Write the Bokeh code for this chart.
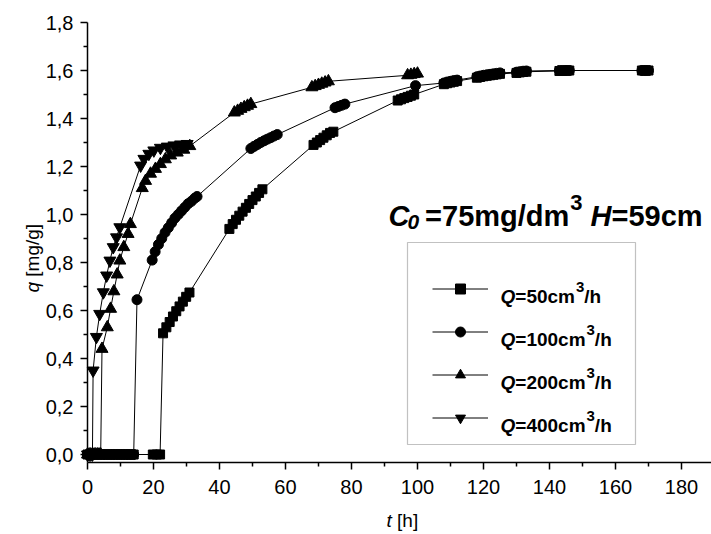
import math
from bokeh.plotting import figure
from bokeh.models import (FixedTicker, CustomJSTickFormatter, Label, Legend,
                          LegendItem, BoxAnnotation, Range1d)
from bokeh.embed import file_html
from bokeh.resources import INLINE

# ---------------- data ----------------
t_q50 = [0, 1, 2, 3, 4, 5, 6, 7, 8, 9, 10, 11, 12, 13, 14,
         19.8, 21.0, 22.0,
         22.9, 23.9, 24.9, 25.9, 26.9, 27.9, 28.9, 29.9, 30.9,
         43, 44, 45, 46, 47, 48, 49, 50, 51, 52, 53,
         68.5, 69.5, 70.5, 71.5, 72.5, 73.5, 74.5,
         94, 95, 96, 97, 98, 99,
         108, 109, 110, 111, 112,
         118, 119, 120, 121, 122, 123, 124, 125,
         130, 131, 132, 133,
         143, 144, 145, 146,
         168, 169, 170]
q_q50 = [0, 0, 0, 0, 0, 0, 0, 0, 0, 0, 0, 0, 0, 0, 0,
         0, 0, 0,
         0.505, 0.53, 0.552, 0.575, 0.597, 0.617, 0.637, 0.657, 0.675,
         0.94, 0.96, 0.978, 0.995, 1.012, 1.028, 1.044, 1.06, 1.075, 1.09, 1.105,
         1.29, 1.30, 1.31, 1.32, 1.33, 1.34, 1.345,
         1.475, 1.48, 1.485, 1.49, 1.495, 1.50,
         1.543, 1.547, 1.55, 1.553, 1.556,
         1.570, 1.573, 1.576, 1.578, 1.580, 1.582, 1.584, 1.586,
         1.590, 1.592, 1.594, 1.595,
         1.598, 1.599, 1.600, 1.600,
         1.600, 1.600, 1.600]

t_q100 = [0, 1, 2, 3, 4, 5, 6, 7, 8, 9, 10, 11, 12, 13, 14,
          15,
          19.6, 20.5, 21.5, 22.5, 23.5, 24.5, 25.5, 26.5, 27.5, 28.5, 29.5, 30.5, 31.5, 32.5, 33.2,
          49.5, 50.5, 51.5, 52.5, 53.5, 54.5, 55.5, 56.5, 57.5,
          75, 76, 77, 78,
          99.4,
          108, 109, 110, 111, 112,
          118, 119, 120, 121, 122, 123, 124, 125,
          130, 131, 132, 133,
          143, 144, 145, 146,
          168, 169, 170]
q_q100 = [0, 0, 0, 0, 0, 0, 0, 0, 0, 0, 0, 0, 0, 0, 0,
          0.645,
          0.81, 0.845, 0.875, 0.90, 0.925, 0.945, 0.965, 0.985, 1.0, 1.015, 1.03, 1.045, 1.055, 1.068, 1.075,
          1.275, 1.284, 1.292, 1.30, 1.307, 1.314, 1.32, 1.327, 1.333,
          1.445, 1.45, 1.455, 1.46,
          1.537,
          1.548, 1.552, 1.555, 1.558, 1.56,
          1.574, 1.577, 1.58, 1.582, 1.584, 1.586, 1.588, 1.59,
          1.593, 1.595, 1.597, 1.598,
          1.60, 1.60, 1.60, 1.60,
          1.60, 1.60, 1.60]

t_q200 = [0, 0.5, 1, 1.5, 2, 2.5, 3, 3.5, 4,
          4.4, 6.0, 7.0, 8.0, 9.0, 9.8, 11.0, 12.3, 13.0,
          16.6, 17.6, 19.1, 20.6, 22.1, 23.6, 25.2, 27.2, 29.2, 31.0,
          44.5, 45.5, 46.5, 47.5, 48.5, 49.5,
          68, 69, 70, 71, 72, 73,
          97, 98, 99, 100]
q_q200 = [0, 0, 0, 0, 0, 0, 0, 0, 0,
          0.44, 0.53, 0.607, 0.68, 0.75, 0.808, 0.864, 0.919, 0.96,
          1.11, 1.14, 1.17, 1.19, 1.21, 1.23, 1.246, 1.258, 1.27, 1.285,
          1.425, 1.432, 1.44, 1.447, 1.453, 1.46,
          1.53, 1.535, 1.54, 1.545, 1.55, 1.555,
          1.58, 1.582, 1.585, 1.587]

t_q400 = [0, 0.5, 1.0, 1.5,
          1.7, 2.7, 3.7, 4.8, 5.8, 6.8, 7.8, 8.8, 9.8,
          16.1, 17.1, 18.6, 20.1, 22.1, 24.2, 26.2, 28.2, 30.2]
q_q400 = [0, 0, 0, 0,
          0.35, 0.49, 0.586, 0.676, 0.746, 0.808, 0.864, 0.905, 0.947,
          1.204, 1.232, 1.253, 1.267, 1.278, 1.283, 1.288, 1.292, 1.294]

series_flow = ["50", "100", "200", "400"]
x_major = [0, 20, 40, 60, 80, 100, 120, 140, 160, 180]
x_minor = [10, 30, 50, 70, 90, 110, 130, 150, 170]
y_major = [0.0, 0.2, 0.4, 0.6, 0.8, 1.0, 1.2, 1.4, 1.6, 1.8]
y_minor = [0.1, 0.3, 0.5, 0.7, 0.9, 1.1, 1.3, 1.5, 1.7]

# ---------------- figure ----------------
W, H = 711, 534
FONT = "Liberation Sans"
# the plotting frame fills the whole canvas; axes are pinned inside it
X_LO, X_HI = -26.36, 189.09          # t at canvas left / right edge
Y_LO, Y_HI = -0.3333, 1.8917         # q at canvas bottom / top edge
X_AX, Y_AX = 0.0, -0.0333            # where the axes cross
X_END, Y_END = 189.09, 1.8

p = figure(width=W, height=H, output_backend="svg", toolbar_location=None,
           x_range=Range1d(X_LO, X_HI), y_range=Range1d(Y_LO, Y_HI),
           min_border=0, min_border_left=0, min_border_right=0,
           min_border_top=0, min_border_bottom=0)
p.outline_line_color = None
p.grid.visible = False
p.background_fill_color = "white"
p.border_fill_color = "white"

xa, ya = p.xaxis[0], p.yaxis[0]
xa.fixed_location = Y_AX
ya.fixed_location = X_AX
xa.bounds = (X_AX, X_END)
ya.bounds = (Y_AX, Y_END)

for ax in (xa, ya):
    ax.axis_line_color = "black"
    ax.axis_line_width = 1.5
    ax.major_tick_line_color = "black"
    ax.major_tick_line_width = 1.5
    ax.minor_tick_line_color = "black"
    ax.minor_tick_line_width = 1.5
    ax.major_tick_in = 0
    ax.major_tick_out = 7
    ax.minor_tick_in = 0
    ax.minor_tick_out = 4
    ax.major_label_text_font = FONT
    ax.major_label_text_font_size = "20px"
    ax.major_label_text_color = "black"

xa.ticker = FixedTicker(ticks=x_major, minor_ticks=x_minor)
ya.ticker = FixedTicker(ticks=y_major, minor_ticks=y_minor)
ya.formatter = CustomJSTickFormatter(
    code="return tick.toFixed(1).replace('.', ',');")
xa.major_label_standoff = 10
ya.major_label_standoff = 7

data = [(t_q50, q_q50, "square", 9),
        (t_q100, q_q100, "circle", 10),
        (t_q200, q_q200, "triangle", 12),
        (t_q400, q_q400, "inverted_triangle", 12)]
items = []
for (tt, qq, mk, sz) in data:
    lr = p.line(tt, qq, line_color="black", line_width=1)
    sr = p.scatter(tt, qq, marker=mk, size=sz, fill_color="black",
                   line_color="black")
    items.append(LegendItem(label="", renderers=[lr, sr]))


def fx(X):
    return X


def fy(Y):
    return H - Y


# legend (glyph samples) + frame box
row_h, row_gap = 25, 18
leg_left, leg_top = 432, 276
leg = Legend(items=items,
             location=(fx(leg_left), fy(leg_top + 4 * row_h + 3 * row_gap)),
             padding=0, margin=0, spacing=row_gap, glyph_width=56,
             glyph_height=row_h, label_height=row_h, label_width=0,
             label_standoff=0, border_line_color=None,
             background_fill_alpha=0)
p.add_layout(leg, "center")

box = BoxAnnotation(left=fx(407), right=fx(635), top=fy(242), bottom=fy(444),
                    left_units="screen", right_units="screen",
                    top_units="screen", bottom_units="screen",
                    fill_alpha=0, line_color="#333333", line_width=1.2)
p.add_layout(box)

BW = {"Q": 778, "=": 584, "c": 556, "m": 889, "/": 278, "h": 611, "C": 722,
      "H": 722, "g": 611, "d": 611, " ": 278}
RW = {"t": 278, " ": 278, "[": 278, "]": 278, "h": 556, "q": 556, "m": 833,
      "g": 556, "/": 278}


def tw(s, size, table):
    return sum(table.get(c, 556) for c in s) / 1000.0 * size


def lab(X, Y, text, size, style, angle=0.0, align="left"):
    p.add_layout(Label(x=fx(X), y=fy(Y), x_units="screen", y_units="screen",
                       text=text, text_font=FONT, text_font_size=f"{size}px",
                       text_font_style=style, text_color="black",
                       text_baseline="alphabetic", text_align=align,
                       angle=angle))


# legend texts
for i, f in enumerate(series_flow):
    cy = leg_top + row_h / 2 + i * (row_h + row_gap)
    base = cy + 7
    x = 500
    lab(x, base, "Q", 19, "bold italic")
    x += tw("Q", 19, BW)
    lab(x, base, "=" + f + "cm", 19, "bold")
    x += tw("=" + f + "cm", 19, BW) + 1
    lab(x, base - 9, "3", 15, "bold")
    x += tw("3", 15, BW)
    lab(x, base, "/h", 19, "bold")

# title inside plot
tb = 215
x = 388
lab(x, tb, "C", 29, "bold italic")
x += tw("C", 29, BW) - 2
lab(x, tb + 6, "0", 21, "bold italic")
x += tw("0", 21, BW) + 6
lab(x, tb, "=75mg/dm", 29, "bold")
x += tw("=75mg/dm", 29, BW) + 1
lab(x, tb - 13, "3", 22, "bold")
x += tw("3", 22, BW) + 8
lab(x, tb, "H", 29, "bold italic")
x += tw("H", 29, BW)
lab(x, tb, "=59cm", 29, "bold")

# axis titles
xl = 386
lab(xl, 520, "t", 19, "italic")
lab(xl + tw("t ", 19, RW), 520, "[h]", 19, "normal")

yl_base, yl_start = 32, 292
lab(yl_base, yl_start, "q", 19, "italic", angle=math.pi / 2)
lab(yl_base, yl_start - tw("q ", 19, RW), "[mg/g]", 19, "normal",
    angle=math.pi / 2)

open("out.html", "w").write(file_html(p, INLINE))
